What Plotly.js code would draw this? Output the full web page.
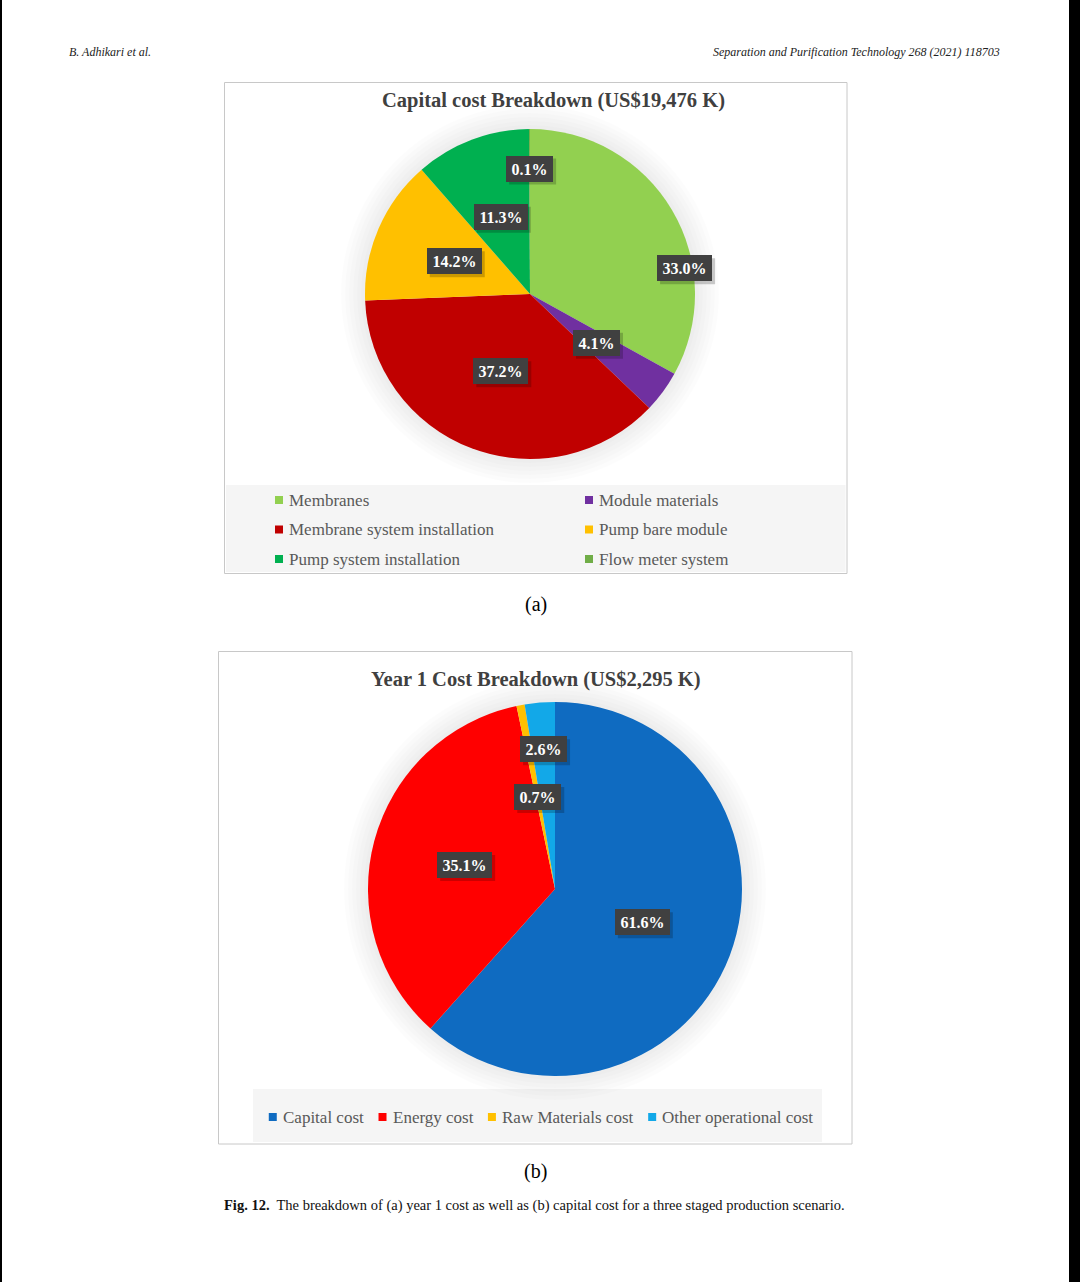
<!DOCTYPE html>
<html><head><meta charset="utf-8">
<script src="https://cdn.plot.ly/plotly-3.0.1.min.js"></script>
<style>html,body{margin:0;padding:0;background:#fff}#chart{width:1080px;height:1282px}</style>
</head><body><div id="chart"></div>
<script>
// ---------- data ----------
const capCategories = ["Membranes", "Module materials", "Membrane system installation", "Pump bare module", "Pump system installation", "Flow meter system"];
const capValues = [33.0, 4.1, 37.2, 14.2, 11.3, 0.1];
const yearCategories = ["Capital cost", "Energy cost", "Raw Materials cost", "Other operational cost"];
const yearValues = [61.6, 35.1, 0.7, 2.6];
const capTitle = "Capital cost Breakdown (US$19,476 K)";
const yearTitle = "Year 1 Cost Breakdown (US$2,295 K)";

// ---------- styles / layout constants ----------
const W = 1080, H = 1282;
const SERIF = "Liberation Serif, Times New Roman, serif";
const capColors = ["#92D050", "#7030A0", "#C00000", "#FFC000", "#00B050", "#70AD47"];
const yearColors = ["#0F6BC1", "#FF0000", "#FFC000", "#12A8E8"];
const capPie = {cx: 530, cy: 294, r: 165};
const yearPie = {cx: 555, cy: 889, r: 187};
// label placement (radius fraction, optional angle override in degrees) per slice
const capPlace = [{f: 0.95, a: 80.5}, {f: 0.5}, {f: 0.5}, {f: 0.5}, {f: 0.5}, {f: 0.76}];
const yearPlace = [{f: 0.5}, {f: 0.5}, {f: 0.5}, {f: 0.75}];

const px = x => x / W;
const py = y => 1 - y / H;
const ctx = document.createElement('canvas').getContext('2d');
function measure(t, font) { ctx.font = font; return ctx.measureText(t).width; }

function pieTrace(values, labels, colors, g) {
  return {
    type: 'pie', values: values, labels: labels, sort: false,
    direction: 'clockwise', rotation: 0,
    marker: {colors: colors, line: {width: 0}},
    textinfo: 'none', hoverinfo: 'label+value', showlegend: false,
    domain: {x: [px(g.cx - g.r), px(g.cx + g.r)], y: [py(g.cy + g.r), py(g.cy - g.r)]}
  };
}

const annotations = [];
const shapes = [];

function addLabels(values, g, place) {
  const total = values.reduce((a, b) => a + b, 0);
  let cum = 0;
  values.forEach((v, i) => {
    const mid = (cum + v / 2) / total * 360;
    cum += v;
    const p = place[i] || {f: 0.5};
    const ang = (p.a !== undefined ? p.a : mid) * Math.PI / 180;
    const x = g.cx + p.f * g.r * Math.sin(ang);
    const y = g.cy - p.f * g.r * Math.cos(ang);
    const txt = v.toFixed(1) + '%';
    const bw = Math.round(measure(txt, 'bold 16px "Liberation Serif"') + 11);
    const bh = 26;
    // soft drop shadow behind the label box
    shapes.push({type: 'rect', xref: 'paper', yref: 'paper', layer: 'above',
      x0: px(x - bw / 2 + 3), x1: px(x + bw / 2 + 3), y0: py(y + bh / 2 + 3), y1: py(y - bh / 2 + 3),
      fillcolor: 'rgba(0,0,0,0.2)', line: {width: 0}});
    annotations.push({x: px(x), y: py(y), xref: 'paper', yref: 'paper', xanchor: 'center', yanchor: 'middle',
      text: '<b>' + txt + '</b>', showarrow: false, width: bw, height: bh, borderpad: 0, borderwidth: 0,
      font: {family: SERIF, size: 16, color: '#ffffff'}, bgcolor: '#404040'});
  });
}

function halo(g) {
  for (let k = 1; k <= 6; k++) {
    const rr = g.r + k * 4;
    shapes.push({type: 'circle', xref: 'paper', yref: 'paper', layer: 'below',
      x0: px(g.cx - rr), x1: px(g.cx + rr), y0: py(g.cy + rr), y1: py(g.cy - rr),
      fillcolor: 'rgba(0,0,0,0.013)', line: {width: 0}});
  }
}

function rect(x0, y0, x1, y1, fill, line) {
  shapes.push({type: 'rect', xref: 'paper', yref: 'paper', layer: 'below',
    x0: px(x0), x1: px(x1), y0: py(y1), y1: py(y0), fillcolor: fill, line: line || {width: 0}});
}

function text(x, y, t, size, opts) {
  annotations.push(Object.assign({x: px(x), y: py(y), xref: 'paper', yref: 'paper', text: t, showarrow: false,
    xanchor: 'center', yanchor: 'middle', font: {family: SERIF, size: size, color: '#000'}}, opts || {}));
}

const LEG = 17;
function legendItem(x, y, color, label) {
  shapes.push({type: 'rect', xref: 'paper', yref: 'paper', layer: 'above',
    x0: px(x), x1: px(x + 8), y0: py(y + 4), y1: py(y - 4), fillcolor: color, line: {width: 0}});
  text(x + 12, y, label, LEG, {xanchor: 'left', font: {family: SERIF, size: LEG, color: '#595959'}});
}

// page edges
rect(0, 0, 2, H, '#000');
rect(1069, 0, W, H, '#000');

// header
text(67, 52, '<i>B. Adhikari et al.</i>', 12, {xanchor: 'left', font: {family: SERIF, size: 12, color: '#222'}});
text(1002, 52, '<i>Separation and Purification Technology 268 (2021) 118703</i>', 12, {xanchor: 'right', font: {family: SERIF, size: 12, color: '#222'}});

// ----- panel (a) -----
rect(224.5, 82.5, 847, 573.5, '#ffffff', {color: '#c8c8c8', width: 1});
rect(226, 485, 845.5, 572, '#f5f5f5');
halo(capPie);
text(553, 100, '<b>' + capTitle + '</b>', 20.5, {font: {family: SERIF, size: 20.5, color: '#404040'}});
addLabels(capValues, capPie, capPlace);
const colX = [275, 585], rowY = [500, 529.5, 559];
capCategories.forEach((c, i) => legendItem(colX[i % 2], rowY[Math.floor(i / 2)], capColors[i], c));
text(536, 604, '(a)', 20);

// ----- panel (b) -----
rect(218.5, 651.5, 852, 1144, '#ffffff', {color: '#c8c8c8', width: 1});
rect(253, 1089, 822, 1142, '#f5f5f5');
halo(yearPie);
text(536, 679, '<b>' + yearTitle + '</b>', 20.5, {font: {family: SERIF, size: 20.5, color: '#404040'}});
addLabels(yearValues, yearPie, yearPlace);
(function () {
  const widths = yearCategories.map(c => measure(c, LEG + 'px "Liberation Serif"'));
  const gap = 17;
  const total = widths.reduce((a, b) => a + b, 0) + yearCategories.length * 12 + (yearCategories.length - 1) * gap;
  let x = 540 - total / 2;
  yearCategories.forEach((c, i) => {
    legendItem(x, 1117, yearColors[i], c);
    x += 12 + widths[i] + gap;
  });
})();
text(535, 1171, '(b)', 20);

// caption
text(222, 1205, '<b>Fig. 12.</b>  The breakdown of (a) year 1 cost as well as (b) capital cost for a three staged production scenario.', 14.5,
  {xanchor: 'left', font: {family: SERIF, size: 14.5, color: '#111'}});

const data = [
  pieTrace(capValues, capCategories, capColors, capPie),
  pieTrace(yearValues, yearCategories, yearColors, yearPie)
];

const layout = {
  width: W, height: H, margin: {l: 0, r: 0, t: 0, b: 0},
  paper_bgcolor: '#ffffff', plot_bgcolor: '#ffffff', showlegend: false,
  shapes: shapes, annotations: annotations
};

Plotly.newPlot('chart', data, layout, {staticPlot: true, displayModeBar: false});
</script>
</body></html>
